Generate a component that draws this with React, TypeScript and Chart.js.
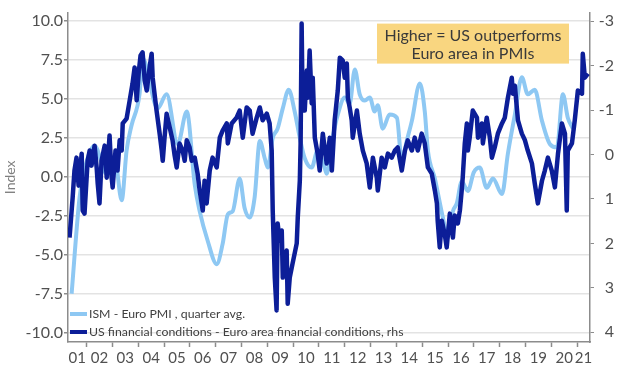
import React, { useEffect, useRef } from "react";
import { Chart, registerables } from "chart.js";

Chart.register(...registerables);

// ---- data ----
const xMin = 2001.28;
const xMax = 2021.5;
const leftTicks = [-10, -7.5, -5, -2.5, 0, 2.5, 5, 7.5, 10];
const rightTicks = [-3, -2, -1, 0, 1, 2, 3, 4];
const yearTicks = [2002, 2003, 2004, 2005, 2006, 2007, 2008, 2009, 2010, 2011, 2012, 2013, 2014, 2015, 2016, 2017, 2018, 2019, 2020, 2021];
const yearLabels = ["01", "02", "03", "04", "05", "06", "07", "08", "09", "10", "11", "12", "13", "14", "15", "16", "17", "18", "19", "20", "21"];

const ismYears = [2001.42, 2001.73, 2002.04, 2002.31, 2002.78, 2003.09, 2003.36, 2003.55, 2003.74, 2004.05, 2004.17, 2004.75, 2005.1, 2005.53, 2005.88, 2006.19, 2006.38, 2006.69, 2007.04, 2007.27, 2007.47, 2007.66, 2007.93, 2008.12, 2008.32, 2008.51, 2008.71, 2008.9, 2009.02, 2009.21, 2009.4, 2009.6, 2009.83, 2010.06, 2010.26, 2010.45, 2010.72, 2010.95, 2011.22, 2011.3, 2011.53, 2011.73, 2012.0, 2012.19, 2012.39, 2012.58, 2012.78, 2012.97, 2013.16, 2013.28, 2013.47, 2013.74, 2014.02, 2014.21, 2014.4, 2014.6, 2014.91, 2015.1, 2015.22, 2015.49, 2015.8, 2015.99, 2016.19, 2016.34, 2016.53, 2016.77, 2017.0, 2017.23, 2017.5, 2017.74, 2018.09, 2018.32, 2018.59, 2018.86, 2019.09, 2019.36, 2019.64, 2019.95, 2020.22, 2020.45, 2020.64, 2020.84];
const ismValues = [-7.5, -1.3, 1.2, 2.0, 0.2, 1.2, -1.5, 1.7, 3.3, 5.3, 7.6, 4.4, 5.3, 2.1, 4.2, -0.5, -2.2, -4.1, -5.6, -4.3, -2.4, -2.2, -0.1, -2.0, -2.6, -1.3, 2.3, 1.2, 0.6, 2.5, 3.1, 4.4, 5.6, 4.2, 2.5, 1.2, 0.6, 1.7, 0.6, 0.2, 2.5, 4.0, 5.1, 4.7, 6.9, 5.3, 4.9, 5.1, 4.2, 4.6, 3.1, 4.0, 3.8, 1.0, 2.3, 3.6, 6.0, 4.2, 1.7, -0.1, -2.6, -3.9, -2.2, -1.7, -0.3, -0.9, 0.3, 0.6, -0.7, -0.1, -1.1, 1.5, 4.0, 6.4, 5.3, 5.6, 3.6, 2.1, 1.9, 5.3, 3.8, 3.1];

const finYears = [2001.34, 2001.46, 2001.53, 2001.61, 2001.69, 2001.81, 2001.85, 2001.92, 2002.04, 2002.12, 2002.19, 2002.31, 2002.39, 2002.43, 2002.5, 2002.58, 2002.7, 2002.78, 2002.89, 2002.97, 2003.01, 2003.12, 2003.2, 2003.28, 2003.36, 2003.4, 2003.55, 2003.67, 2003.78, 2003.86, 2003.94, 2004.02, 2004.09, 2004.17, 2004.25, 2004.33, 2004.44, 2004.52, 2004.56, 2004.64, 2004.71, 2004.83, 2004.91, 2004.95, 2005.02, 2005.1, 2005.22, 2005.33, 2005.41, 2005.49, 2005.6, 2005.72, 2005.8, 2005.88, 2005.99, 2006.07, 2006.19, 2006.3, 2006.38, 2006.5, 2006.57, 2006.65, 2006.77, 2006.88, 2007.04, 2007.16, 2007.27, 2007.43, 2007.47, 2007.62, 2007.81, 2007.93, 2008.05, 2008.2, 2008.32, 2008.43, 2008.59, 2008.71, 2008.82, 2008.98, 2009.09, 2009.17, 2009.21, 2009.29, 2009.36, 2009.4, 2009.48, 2009.56, 2009.6, 2009.75, 2009.79, 2009.87, 2009.98, 2010.14, 2010.18, 2010.26, 2010.29, 2010.33, 2010.37, 2010.45, 2010.53, 2010.57, 2010.64, 2010.72, 2010.76, 2010.84, 2010.95, 2011.03, 2011.15, 2011.3, 2011.42, 2011.5, 2011.61, 2011.73, 2011.81, 2011.92, 2012.0, 2012.08, 2012.12, 2012.19, 2012.27, 2012.31, 2012.47, 2012.58, 2012.7, 2012.85, 2012.97, 2013.09, 2013.24, 2013.28, 2013.43, 2013.55, 2013.67, 2013.82, 2013.94, 2014.05, 2014.21, 2014.33, 2014.44, 2014.6, 2014.71, 2014.83, 2014.98, 2015.1, 2015.22, 2015.37, 2015.49, 2015.57, 2015.6, 2015.68, 2015.76, 2015.88, 2015.95, 2016.07, 2016.19, 2016.26, 2016.38, 2016.46, 2016.53, 2016.57, 2016.65, 2016.73, 2016.77, 2016.84, 2016.96, 2017.12, 2017.16, 2017.31, 2017.35, 2017.5, 2017.62, 2017.7, 2017.81, 2017.93, 2018.09, 2018.2, 2018.32, 2018.47, 2018.51, 2018.59, 2018.71, 2018.86, 2018.98, 2019.09, 2019.25, 2019.36, 2019.48, 2019.64, 2019.75, 2019.87, 2020.02, 2020.14, 2020.26, 2020.41, 2020.53, 2020.6, 2020.64, 2020.8, 2020.91, 2021.03, 2021.19, 2021.22, 2021.3, 2021.42];
const finValues = [1.87, 0.97, 0.36, 0.07, 0.7, -0.02, 1.26, 1.33, 0.14, -0.09, 0.25, -0.2, 0.29, 0.65, 1.1, 0.14, -0.2, 0.52, -0.43, 0.52, 0.74, -0.09, 0.36, -0.32, -0.09, -0.7, -0.81, -1.22, -1.6, -1.96, -1.22, -1.85, -2.23, -2.3, -1.67, -1.44, -1.96, -2.27, -1.73, -1.33, -0.99, -0.47, -0.09, 0.14, -0.38, -0.92, -0.61, -0.32, 0.02, 0.29, -0.25, -0.09, 0.14, -0.32, -0.16, 0.14, 0.07, 0.43, 0.81, 1.26, 0.59, 1.1, 0.36, 0.07, 0.29, -0.38, -0.54, -0.7, -0.25, -0.7, -0.83, -0.99, -0.38, -1.06, -0.99, -0.47, -0.83, -1.06, -0.77, -0.92, -0.7, -0.09, 1.26, 2.77, 3.51, 1.55, 1.94, 1.71, 2.77, 2.16, 3.36, 2.77, 2.45, 2.0, 1.42, 0.59, -0.25, -2.95, -0.99, -0.99, -1.89, -1.28, -2.34, -1.15, -1.73, -0.38, -0.02, 0.36, -0.47, 0.2, -0.38, 0.36, -0.77, -1.44, -2.18, -2.12, -1.73, -2.05, -1.28, -1.06, -0.77, -0.38, -0.99, -0.47, -0.09, 0.2, 0.74, 0.07, 0.52, 0.81, 0.07, 0.29, -0.02, 0.07, -0.09, -0.16, 0.36, -0.09, -0.32, -0.09, -0.38, -0.09, -0.47, -0.25, 0.29, 0.43, 0.81, 1.1, 1.49, 2.09, 1.49, 1.82, 2.09, 1.33, 1.87, 1.37, 1.55, 1.26, 0.81, 0.52, -0.25, -0.7, -0.09, -0.38, -0.99, -0.83, -0.38, -0.7, -0.25, -0.83, -0.38, 0.07, -0.16, -0.47, -0.7, -0.83, -1.28, -1.73, -1.37, -1.55, -0.77, -0.47, -0.32, -0.09, 0.2, 0.65, 1.1, 0.59, 0.36, 0.07, 0.36, 0.74, -0.02, -0.7, -0.47, 1.26, -0.09, -0.25, -0.77, -1.44, -1.37, -2.27, -1.73, -1.82];

const legendLabels = ["ISM - Euro PMI , quarter avg.", "US financial conditions - Euro area financial conditions, rhs"];
const noteLines = ["Higher = US outperforms", "Euro area in PMIs"];

// ---- styles ----
const LIGHT = "#8ec8f3";
const DARK = "#0c1e98";
const FONT = "Lato";
const AXIS = "#8c8c8c";
const TEXT = "#505050";

function labelPositions(): number[] {
  return yearLabels.map((_, i) => {
    const y = 2001 + i;
    const a = Math.max(y, xMin);
    const b = Math.min(y + 1, xMax);
    return (a + b) / 2;
  });
}

const overlay = {
  id: "overlay",
  afterDatasetsDraw(chart: any) {
    const { ctx, chartArea } = chart;
    ctx.save();
    // annotation box
    const bx = chartArea.left + 309;
    const by = chartArea.top + 11;
    const bw = 192;
    const bh = 40;
    ctx.fillStyle = "#f9d680";
    ctx.fillRect(bx, by, bw, bh);
    ctx.fillStyle = "#3a3a3a";
    ctx.font = `16px ${FONT}`;
    ctx.textAlign = "center";
    ctx.textBaseline = "middle";
    ctx.fillText(noteLines[0], bx + bw / 2, by + 12);
    ctx.fillText(noteLines[1], bx + bw / 2, by + 30);
    // legend
    const colors = [LIGHT, DARK];
    const lx = chartArea.left + 1;
    const rows = [chartArea.bottom - 28, chartArea.bottom - 10];
    ctx.textAlign = "left";
    ctx.font = `12.3px ${FONT}`;
    rows.forEach((ry, i) => {
      ctx.strokeStyle = colors[i];
      ctx.lineWidth = 4;
      ctx.beginPath();
      ctx.moveTo(lx + 1, ry);
      ctx.lineTo(lx + 18, ry);
      ctx.stroke();
      ctx.fillStyle = "#404040";
      ctx.fillText(legendLabels[i], lx + 20, ry);
    });
    ctx.restore();
  },
};

export default function App() {
  const ref = useRef<HTMLCanvasElement>(null);
  useEffect(() => {
    document.body.style.margin = "0";
    const positions = labelPositions();
    const chart = new Chart(ref.current as HTMLCanvasElement, {
      type: "line",
      data: {
        datasets: [
          {
            label: legendLabels[1],
            data: finYears.map((x, i) => ({ x, y: finValues[i] })),
            borderColor: DARK,
            borderWidth: 4.5,
            pointRadius: 0,
            tension: 0,
            borderJoinStyle: "round",
            yAxisID: "y2",
            order: 0,
          },
          {
            label: legendLabels[0],
            data: ismYears.map((x, i) => ({ x, y: ismValues[i] })),
            borderColor: LIGHT,
            borderWidth: 4,
            pointRadius: 0,
            cubicInterpolationMode: "monotone",
            borderJoinStyle: "round",
            yAxisID: "y",
            order: 1,
          },
        ],
      },
      options: {
        animation: false,
        responsive: false,
        layout: { padding: { top: 12, right: 6, left: 0, bottom: 0 } },
        plugins: { legend: { display: false }, tooltip: { enabled: false } },
        scales: {
          x: {
            type: "linear",
            min: xMin,
            max: xMax,
            afterBuildTicks: (s: any) => {
              const all = [...yearTicks, ...positions].sort((a, b) => a - b);
              s.ticks = all.map((v) => ({ value: v }));
            },
            afterFit: (s: any) => {
              s.height = 33;
            },
            ticks: {
              autoSkip: false,
              maxRotation: 0,
              padding: 2,
              color: TEXT,
              font: { family: FONT, size: 15 },
              callback: (v: any) => {
                const n = Number(v);
                if (Number.isInteger(n)) return "";
                return yearLabels[Math.floor(n) - 2001];
              },
            },
            grid: {
              drawOnChartArea: false,
              drawTicks: true,
              tickLength: 5,
              tickWidth: 1.5,
              tickColor: (c: any) => (c.tick && Number.isInteger(c.tick.value) ? AXIS : "rgba(0,0,0,0)"),
            },
            border: { display: true, color: AXIS, width: 1.5 },
          },
          y: {
            position: "left",
            min: -10.6,
            max: 10.55,
            afterBuildTicks: (s: any) => {
              s.ticks = leftTicks.map((v) => ({ value: v }));
            },
            afterFit: (s: any) => {
              s.width = 68;
            },
            ticks: {
              padding: 1,
              color: TEXT,
              font: { family: FONT, size: 16 },
              callback: (v: any) => Number(v).toFixed(1),
            },
            grid: {
              color: "#e3e3e3",
              lineWidth: 1.5,
              tickLength: 4,
              tickColor: AXIS,
            },
            border: { display: true, color: AXIS, width: 1.5 },
            title: {
              display: true,
              text: "Index",
              color: "#7f7f7f",
              font: { family: FONT, size: 14 },
              padding: { top: 2, bottom: 0 },
            },
          },
          y2: {
            position: "right",
            reverse: true,
            min: -3.195,
            max: 4.22,
            afterBuildTicks: (s: any) => {
              s.ticks = rightTicks.map((v) => ({ value: v }));
            },
            afterFit: (s: any) => {
              s.width = 24;
            },
            ticks: {
              crossAlign: "far",
              color: TEXT,
              font: { family: FONT, size: 16 },
              callback: (v: any) => String(v),
            },
            grid: {
              drawOnChartArea: false,
              tickLength: 4,
              tickColor: AXIS,
            },
            border: { display: true, color: AXIS, width: 1.5 },
          },
        },
      },
      plugins: [overlay],
    } as any);
    return () => chart.destroy();
  }, []);
  return (
    <div style={{ width: 620, height: 375 }}>
      <canvas ref={ref} width={620} height={375} />
    </div>
  );
}
